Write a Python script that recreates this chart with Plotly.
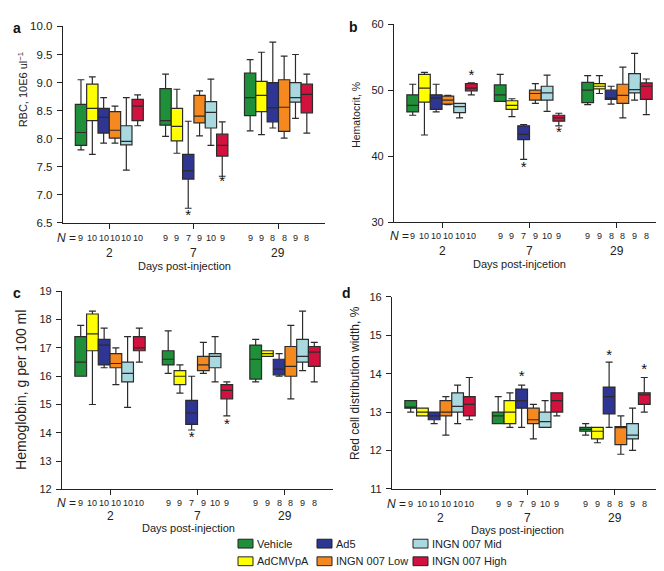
import plotly.graph_objects as go

# ---------------- data ----------------
days = ["2", "7", "29"]
groups = ["Vehicle", "AdCMVpA", "Ad5", "INGN 007 Low", "INGN 007 Mid", "INGN 007 High"]
colors = ["#1f8f3a", "#ffff00", "#2e3592", "#f5891f", "#a9d9df", "#d2113f"]
n_counts = [[9, 10, 10, 10, 10, 10], [9, 9, 7, 9, 10, 9], [9, 9, 8, 8, 9, 8]]

# rows = groups, columns = days (2, 7, 29)
rbc_low = [[7.80, 8.04, 8.14], [7.72, 7.74, 8.07], [7.92, 6.76, 8.19], [7.92, 8.05, 8.01], [7.44, 7.88, 8.36], [8.23, 7.33, 8.10]]
rbc_q1 = [[7.88, 8.24, 8.41], [8.32, 7.96, 8.48], [8.10, 7.28, 8.30], [8.01, 8.28, 8.13], [7.89, 8.19, 8.65], [8.32, 7.69, 8.46]]
rbc_med = [[8.11, 8.32, 8.73], [8.54, 8.22, 8.77], [8.38, 7.43, 8.55], [8.15, 8.40, 8.56], [7.95, 8.47, 8.73], [8.58, 7.88, 8.79]]
rbc_q3 = [[8.61, 8.89, 9.17], [8.97, 8.54, 9.02], [8.54, 7.72, 9.00], [8.48, 8.77, 9.05], [8.23, 8.66, 9.00], [8.70, 8.08, 8.97]]
rbc_high = [[9.05, 9.15, 9.41], [9.10, 8.88, 9.54], [8.73, 8.31, 9.72], [8.58, 8.85, 9.47], [8.73, 9.06, 9.50], [8.78, 8.30, 9.15]]
rbc_star_day = [1, 1]
rbc_star_grp = [2, 5]
rbc_star_y = [6.62, 7.22]

hct_low = [[46.2, 48.3, 47.8], [43.2, 46.0, 49.5], [46.7, 39.5, 47.9], [47.8, 48.0, 45.8], [45.8, 46.8, 48.5], [49.3, 44.6, 46.3]]
hct_q1 = [[46.7, 48.3, 48.1], [48.2, 47.1, 50.2], [47.1, 42.5, 48.6], [47.9, 48.5, 48.0], [46.6, 48.5, 49.6], [49.9, 45.3, 48.6]]
hct_med = [[47.7, 49.3, 50.0], [50.3, 47.7, 50.6], [48.8, 43.3, 48.8], [48.5, 49.5, 49.2], [47.5, 49.6, 50.1], [50.3, 45.8, 50.6]]
hct_q3 = [[49.3, 50.8, 51.2], [52.4, 48.4, 51.0], [49.3, 44.6, 50.0], [49.1, 50.0, 50.9], [48.0, 50.6, 52.5], [51.0, 46.2, 51.1]]
hct_high = [[50.9, 52.4, 52.2], [52.7, 48.7, 52.2], [50.9, 44.8, 50.6], [49.2, 51.0, 53.5], [48.0, 52.3, 55.6], [51.1, 46.5, 51.7]]
hct_star_day = [0, 1, 1]
hct_star_grp = [5, 2, 5]
hct_star_y = [52.1, 38.2, 43.4]

hgb_low = [[16.0, 16.1, 15.8], [15.0, 15.4, 16.7], [16.3, 14.1, 16.0], [15.7, 16.1, 15.2], [14.9, 15.8, 16.2], [16.5, 14.6, 15.8]]
hgb_q1 = [[16.0, 16.4, 15.9], [16.9, 15.7, 16.7], [16.4, 14.3, 16.05], [16.3, 16.2, 16.0], [15.8, 16.3, 16.5], [16.9, 15.2, 16.35]]
hgb_med = [[16.5, 16.6, 16.6], [17.5, 16.0, 16.8], [17.1, 14.7, 16.25], [16.45, 16.4, 16.35], [16.1, 16.7, 16.7], [17.0, 15.5, 16.85]]
hgb_q3 = [[17.4, 16.9, 17.1], [18.2, 16.2, 16.9], [17.3, 15.15, 16.6], [16.8, 16.7, 17.05], [16.5, 16.8, 17.3], [17.4, 15.7, 17.05]]
hgb_high = [[17.8, 17.6, 17.3], [18.3, 16.4, 16.9], [17.7, 16.0, 16.8], [17.0, 17.2, 17.8], [17.4, 17.4, 18.3], [17.7, 15.8, 17.2]]
hgb_star_day = [1, 1]
hgb_star_grp = [2, 5]
hgb_star_y = [13.82, 14.28]

rdw_low = [[13.0, 12.7, 12.4], [12.9, 12.6, 12.2], [12.7, 12.6, 12.6], [12.4, 12.3, 11.9], [12.7, 12.6, 12.0], [12.8, 12.9, 13.0]]
rdw_q1 = [[13.1, 12.7, 12.5], [12.9, 12.7, 12.3], [12.8, 13.1, 12.95], [12.9, 12.7, 12.15], [13.0, 12.6, 12.3], [12.9, 13.0, 13.2]]
rdw_med = [[13.12, 12.9, 12.55], [13.0, 13.0, 12.5], [12.9, 13.3, 13.4], [13.0, 12.8, 12.6], [13.15, 12.75, 12.4], [13.2, 13.3, 13.45]]
rdw_q3 = [[13.3, 13.0, 12.6], [13.1, 13.3, 12.6], [13.0, 13.6, 13.65], [13.3, 13.1, 12.62], [13.5, 13.0, 12.7], [13.4, 13.5, 13.5]]
rdw_high = [[13.3, 13.4, 12.7], [13.1, 13.5, 12.6], [13.0, 13.7, 14.3], [13.4, 13.2, 12.9], [13.7, 13.3, 13.1], [13.9, 13.5, 13.9]]
rdw_star_day = [1, 2, 2]
rdw_star_grp = [2, 2, 5]
rdw_star_y = [13.9, 14.45, 14.09]

# ---------------- layout helpers ----------------
W, H = 664, 571
FONT = "Arial, Liberation Sans, sans-serif"
BOXW = 0.134
offsets = [(g - 2.5) * BOXW for g in range(6)]


def px_x(v):
    return v / W


def px_y(v):
    return (H - v) / H


panels = [
    dict(letter="a", low=rbc_low, q1=rbc_q1, med=rbc_med, q3=rbc_q3, high=rbc_high,
         sd=rbc_star_day, sg=rbc_star_grp, sy=rbc_star_y,
         xdom=(54.8, 317), ydom=(213.3, 12.7), yrange=(6.5, 10.0), dtick=0.5, fmt="{:.1f}",
         ytitle="RBC, 10E6 ul<sup>−1</sup>", ytfont=11, ytpos=(15, 78),
         xtitle="Days post-injection", xtpos=176, offs=(15, 30, 43), letpos=(9, 14),
         tickfont=11.5, nshift=-8),
    dict(letter="b", low=hct_low, q1=hct_q1, med=hct_med, q3=hct_q3, high=hct_high,
         sd=hct_star_day, sg=hct_star_grp, sy=hct_star_y,
         xdom=(385.9, 657.1), ydom=(212.5, 10.5), yrange=(30, 60), dtick=10, fmt="{:.0f}",
         ytitle="Hematocrit, %", ytfont=10.5, ytpos=(348, 103),
         xtitle="Days post-injcetion", xtpos=511, offs=(14, 29, 42), letpos=(345, 13),
         tickfont=11, nshift=-6),
    dict(letter="c", low=hgb_low, q1=hgb_q1, med=hgb_med, q3=hgb_q3, high=hgb_high,
         sd=hgb_star_day, sg=hgb_star_grp, sy=hgb_star_y,
         xdom=(53.9, 325.1), ydom=(485.6, 283.3), yrange=(12, 19), dtick=1, fmt="{:.0f}",
         ytitle="Hemoglobin, g per 100 ml", ytfont=14, ytpos=(13, 384),
         xtitle="Days post-injection", xtpos=180, offs=(14, 27, 39), letpos=(9, 285),
         tickfont=11, nshift=-7),
    dict(letter="d", low=rdw_low, q1=rdw_q1, med=rdw_med, q3=rdw_q3, high=rdw_high,
         sd=rdw_star_day, sg=rdw_star_grp, sy=rdw_star_y,
         xdom=(383.9, 655.1), ydom=(485.0, 289.0), yrange=(11, 16), dtick=1, fmt="{:.0f}",
         ytitle="Red cell distribution width, %", ytfont=12, ytpos=(347, 377),
         xtitle="Days post-injection", xtpos=509, offs=(15, 29, 41), letpos=(338, 285),
         tickfont=11, nshift=-7),
]

fig = go.Figure()
annotations = []
shapes = []
layout_axes = {}

for i, p in enumerate(panels):
    k = "" if i == 0 else str(i + 1)
    xa, ya = "x" + k, "y" + k
    for g in range(6):
        fig.add_trace(go.Box(
            x=[d + offsets[g] for d in range(3)],
            lowerfence=p["low"][g], q1=p["q1"][g], median=p["med"][g],
            q3=p["q3"][g], upperfence=p["high"][g],
            width=BOXW, whiskerwidth=0.6, boxpoints=False,
            fillcolor=colors[g], line=dict(color="#2b2b2b", width=1.2),
            name=groups[g], showlegend=False, hoverinfo="skip",
            xaxis=xa, yaxis=ya,
        ))
    fig.add_trace(go.Scatter(
        x=[p["sd"][j] + offsets[p["sg"][j]] for j in range(len(p["sd"]))],
        y=p["sy"], mode="text", text=["*"] * len(p["sd"]),
        textposition="middle center", textfont=dict(size=15, color="#111", family=FONT),
        showlegend=False, hoverinfo="skip", xaxis=xa, yaxis=ya,
    ))
    lo, hi = p["yrange"]
    nt = int(round((hi - lo) / p["dtick"])) + 1
    tv = [lo + j * p["dtick"] for j in range(nt)]
    layout_axes["xaxis" + k] = dict(
        domain=[px_x(p["xdom"][0]), px_x(p["xdom"][1])], range=[-0.55, 2.55],
        tickvals=[0, 1, 2], showticklabels=False, ticks="outside", ticklen=5,
        tickcolor="#222", showline=True, linecolor="#222", linewidth=1,
        showgrid=False, zeroline=False, anchor=ya, fixedrange=True,
    )
    layout_axes["yaxis" + k] = dict(
        domain=[px_y(p["ydom"][0]), px_y(p["ydom"][1])], range=[lo, hi],
        tickvals=tv, ticktext=[p["fmt"].format(v) for v in tv],
        ticks="outside", ticklen=5, tickcolor="#222", showline=True,
        linecolor="#222", linewidth=1, showgrid=False, zeroline=False,
        tickfont=dict(size=p["tickfont"], color="#222", family=FONT),
        anchor=xa, fixedrange=True, ticklabelstandoff=2,
    )
    offN, offD, offT = p["offs"]
    annotations.append(dict(text="<i>N</i> =", xref=xa + " domain", yref=ya + " domain",
                            x=0, y=0, xanchor="left", yanchor="middle", xshift=p["nshift"],
                            yshift=-offN, showarrow=False,
                            font=dict(size=12, color="#222", family=FONT)))
    for d in range(3):
        for g in range(6):
            annotations.append(dict(text=str(n_counts[d][g]), xref=xa, yref=ya + " domain",
                                    x=d + offsets[g], y=0, xanchor="center", yanchor="middle",
                                    yshift=-offN, showarrow=False,
                                    font=dict(size=9, color="#222", family=FONT)))
        annotations.append(dict(text=days[d], xref=xa, yref=ya + " domain", x=d, y=0,
                                xanchor="center", yanchor="middle", yshift=-offD, showarrow=False,
                                font=dict(size=12, color="#222", family=FONT)))
    annotations.append(dict(text=p["xtitle"], xref="paper", yref=ya + " domain",
                            x=px_x(p["xtpos"]), y=0, xanchor="center", yanchor="middle",
                            yshift=-offT, showarrow=False,
                            font=dict(size=11, color="#222", family=FONT)))
    annotations.append(dict(text=p["ytitle"], xref="paper", yref="paper",
                            x=px_x(p["ytpos"][0]), y=px_y(p["ytpos"][1]), textangle=-90,
                            xanchor="center", yanchor="middle", showarrow=False,
                            font=dict(size=p["ytfont"], color="#222", family=FONT)))
    annotations.append(dict(text="<b>" + p["letter"] + "</b>", xref="paper", yref="paper",
                            x=px_x(p["letpos"][0]), y=px_y(p["letpos"][1]),
                            xanchor="center", yanchor="middle", showarrow=False,
                            font=dict(size=14, color="#111", family=FONT)))

# ---------------- legend (3 columns x 2 rows) ----------------
leg_cols = [230, 309, 405]
leg_rows = [541, 559]
leg_order = [(0, 0), (1, 0), (0, 1), (1, 1), (0, 2), (1, 2)]  # (row, col) per group
for g in range(6):
    r, c = leg_order[g]
    cx, cy = leg_cols[c], leg_rows[r]
    shapes.append(dict(type="rect", xref="paper", yref="paper",
                       x0=px_x(cx), x1=px_x(cx + 15), y0=px_y(cy + 4.5), y1=px_y(cy - 4.5),
                       fillcolor=colors[g], line=dict(color="#222", width=1)))
    annotations.append(dict(text=groups[g], xref="paper", yref="paper",
                            x=px_x(cx + 16.5), y=px_y(cy), xanchor="left", yanchor="middle",
                            showarrow=False, font=dict(size=11, color="#222", family=FONT)))

fig.update_layout(
    width=W, height=H, margin=dict(l=0, r=0, t=0, b=0),
    paper_bgcolor="white", plot_bgcolor="white", boxmode="overlay",
    showlegend=False, annotations=annotations, shapes=shapes,
    font=dict(family=FONT, color="#222"),
    **layout_axes,
)

fig.write_html("out.html")
